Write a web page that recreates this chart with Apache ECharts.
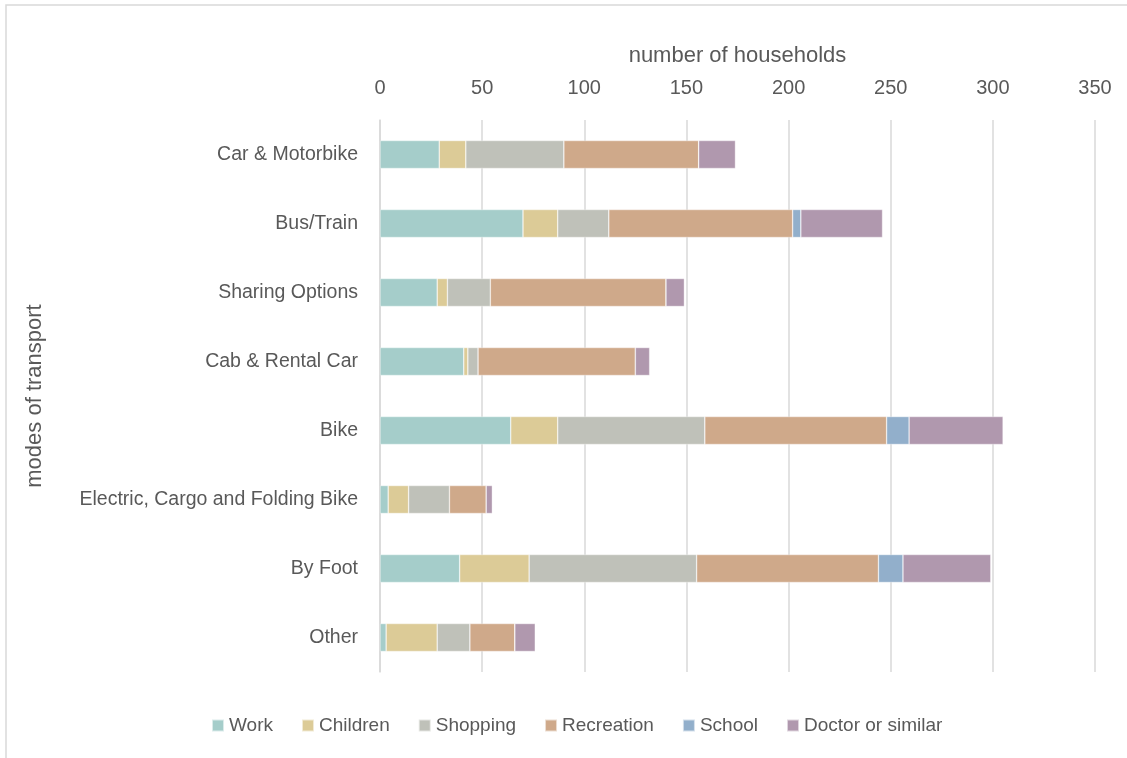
<!DOCTYPE html>
<html>
<head>
<meta charset="utf-8">
<script src="https://cdn.jsdelivr.net/npm/echarts@6/dist/echarts.min.js"></script>
<style>
  html, body { margin: 0; padding: 0; background: #fff; }
  #chart { width: 1127px; height: 758px; }
</style>
</head>
<body>
<div id="chart"></div>
<script>
// Modes of transport, top to bottom
const categories = ['Car & Motorbike', 'Bus/Train', 'Sharing Options', 'Cab & Rental Car',
  'Bike', 'Electric, Cargo and Folding Bike', 'By Foot', 'Other'];

// Households per trip purpose, one value per mode of transport
const work       = [29, 70, 28, 41, 64, 4, 39, 3];
const children   = [13, 17, 5, 2, 23, 10, 34, 25];
const shopping   = [48, 25, 21, 5, 72, 20, 82, 16];
const recreation = [66, 90, 86, 77, 89, 18, 89, 22];
const school     = [0, 4, 0, 0, 11, 0, 12, 0];
const doctor     = [18, 40, 9, 7, 46, 3, 43, 10];

const xTicks = [0, 50, 100, 150, 200, 250, 300, 350];

const seriesDefs = [
  { name: 'Work', data: work, color: '#a5cdca' },
  { name: 'Children', data: children, color: '#dccb97' },
  { name: 'Shopping', data: shopping, color: '#bfc1b9' },
  { name: 'Recreation', data: recreation, color: '#cfa98a' },
  { name: 'School', data: school, color: '#92afcb' },
  { name: 'Doctor or similar', data: doctor, color: '#b098ae' }
];

const font = '"Liberation Sans Narrow", "Arial Narrow", "Liberation Sans", sans-serif';
const textColor = '#595959';

const chart = echarts.init(document.getElementById('chart'), null, { renderer: 'canvas' });
chart.setOption({
  backgroundColor: '#ffffff',
  animation: false,
  textStyle: { fontFamily: font },
  graphic: [{
    type: 'rect',
    shape: { x: 6, y: 5, width: 1140, height: 760 },
    style: { fill: 'none', stroke: '#d9d9d9', lineWidth: 1.5 },
    silent: true
  }],
  legend: {
    top: 711,
    left: 206,
    itemWidth: 12,
    itemHeight: 12,
    itemGap: 28,
    icon: 'rect',
    textStyle: { fontFamily: font, fontSize: 19, color: textColor },
    data: seriesDefs.map(s => s.name)
  },
  grid: { left: 380, right: 32, top: 120, bottom: 86 },
  xAxis: {
    type: 'value',
    position: 'top',
    min: xTicks[0],
    max: xTicks[xTicks.length - 1],
    interval: 50,
    name: 'number of households',
    nameLocation: 'middle',
    nameGap: 53,
    nameTextStyle: { fontFamily: font, fontSize: 22, color: textColor },
    axisLine: { show: false },
    axisTick: { show: false },
    axisLabel: { margin: 22, fontFamily: font, fontSize: 20, color: textColor },
    splitLine: { show: true, lineStyle: { color: '#d9d9d9', width: 1.5 } }
  },
  yAxis: {
    type: 'category',
    inverse: true,
    data: categories,
    name: 'modes of transport',
    nameLocation: 'middle',
    nameGap: 334,
    nameRotate: 90,
    nameTextStyle: { fontFamily: font, fontSize: 22, color: textColor },
    axisLine: { show: true, lineStyle: { color: '#d9d9d9', width: 1.5 } },
    axisTick: { show: false },
    axisLabel: { margin: 22, fontFamily: font, fontSize: 19.5, color: textColor }
  },
  series: seriesDefs.map(s => ({
    name: s.name,
    type: 'bar',
    stack: 'total',
    barWidth: 28,
    data: s.data,
    itemStyle: { color: s.color, borderColor: 'rgba(255,255,255,0.6)', borderWidth: 0.6 },
    emphasis: { disabled: true }
  }))
});
</script>
</body>
</html>
